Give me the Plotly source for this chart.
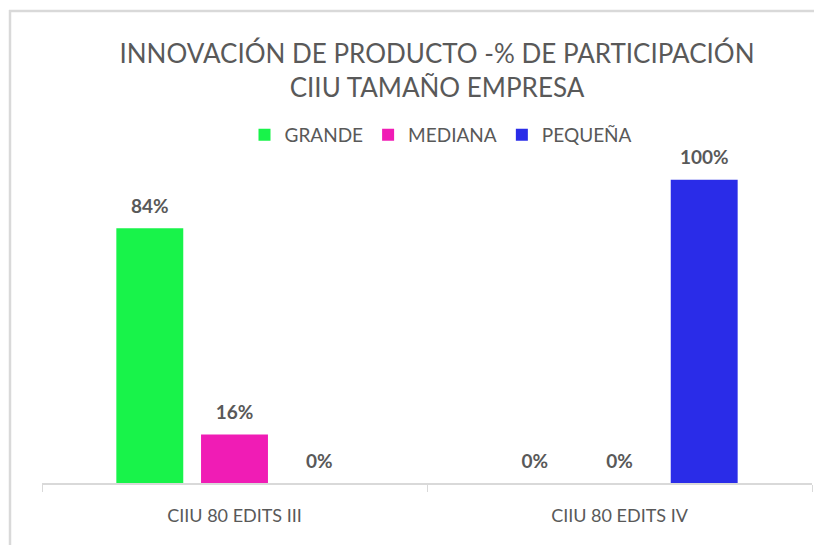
import plotly.graph_objects as go

categories = ["CIIU 80 EDITS III", "CIIU 80 EDITS IV"]
series_names = ["GRANDE", "MEDIANA", "PEQUEÑA"]
grande = [0.84, 0.0]
mediana = [0.16, 0.0]
pequena = [0.0, 1.0]
colors = ["#18F34A", "#F01CB5", "#2A2CE8"]

W, H = 814, 545
ml, mr, mt, mb = 42, 2, 119, 62
pw, ph = W - ml - mr, H - mt - mb
TXT = "#595959"
LABEL_PAD = 0.028  # extra gap between bar top and its data label (axis units)

fig = go.Figure()
for name, vals, c in zip(series_names, [grande, mediana, pequena], colors):
    fig.add_trace(go.Bar(
        x=categories, y=vals, name=name, offsetgroup=name,
        marker=dict(color=c, line=dict(width=0)), hoverinfo="x+y+name",
    ))
for name, vals in zip(series_names, [grande, mediana, pequena]):
    fig.add_trace(go.Bar(
        x=categories, y=[LABEL_PAD] * len(vals), base=vals, offsetgroup=name,
        marker=dict(color="rgba(0,0,0,0)", line=dict(width=0)), showlegend=False, hoverinfo="skip",
        text=[f"{v:.0%}" for v in vals], textposition="outside", cliponaxis=False,
        textfont=dict(family="Lato", size=19, color=TXT, weight="bold"),
    ))

def px_x(p):
    return (p - ml) / pw

def px_y(p):
    return (H - mb - p) / ph

shapes = [
    dict(type="line", xref="paper", yref="paper", x0=px_x(9), x1=px_x(820), y0=px_y(11), y1=px_y(11),
         line=dict(color="#D9D9D9", width=2.5)),
    dict(type="line", xref="paper", yref="paper", x0=px_x(10), x1=px_x(10), y0=px_y(10), y1=px_y(550),
         line=dict(color="#D9D9D9", width=2.5)),
]

fig.update_layout(
    width=W, height=H,
    margin=dict(l=ml, r=mr, t=mt, b=mb, autoexpand=False),
    paper_bgcolor="white", plot_bgcolor="white",
    barmode="group", bargap=0.34, bargroupgap=0.21,
    title=dict(text="INNOVACIÓN DE PRODUCTO -% DE PARTICIPACIÓN<br>CIIU TAMAÑO EMPRESA",
               x=437 / W, xanchor="center", y=1 - 63 / H, yanchor="middle", yref="container",
               font=dict(family="Lato", size=26, color=TXT)),
    legend=dict(orientation="h", x=px_x(441), xanchor="center", y=px_y(135), yanchor="middle",
                font=dict(family="Lato", size=19, color=TXT), itemwidth=30,
                traceorder="normal"),
    xaxis=dict(showline=True, linecolor="#D9D9D9", linewidth=1.5, ticks="outside", tickson="boundaries",
               ticklen=7, tickcolor="#D9D9D9", ticklabelstandoff=16,
               tickfont=dict(family="Lato", size=18, color=TXT), showgrid=False),
    yaxis=dict(range=[0, 1.2], visible=False, showgrid=False, zeroline=False),
    shapes=shapes,
)

fig.write_html("out.html", config={"displayModeBar": False},
               post_script="document.body.style.margin='0';document.body.style.overflow='hidden';")
